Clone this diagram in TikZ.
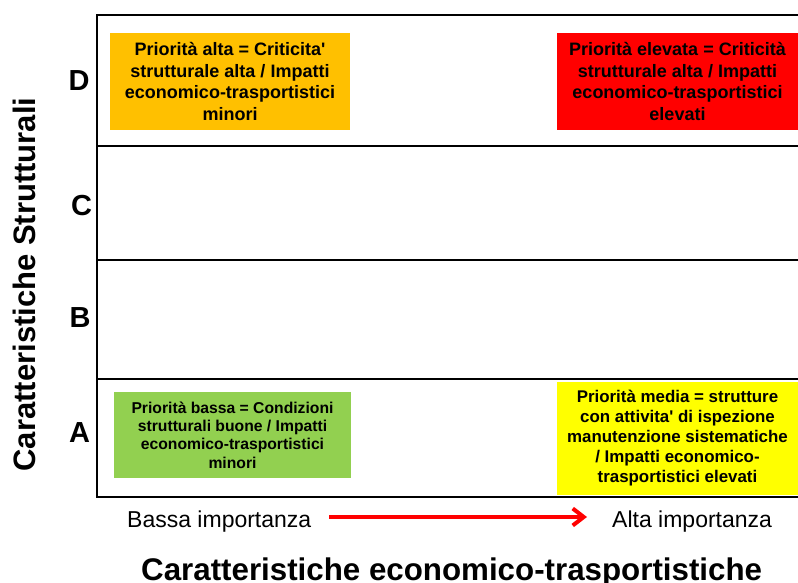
\documentclass[tikz,border=0pt]{standalone}
\usepackage{fontspec}
\setmainfont{Liberation Sans}
\usetikzlibrary{arrows.meta}
\definecolor{cOrange}{HTML}{FFC000}
\definecolor{cRed}{HTML}{FF0000}
\definecolor{cGreen}{HTML}{92D050}
\definecolor{cYellow}{HTML}{FFFF00}
\tikzset{
  frameline/.style={line width=2.8pt, black},
  prbox/.style={rectangle, inner sep=0pt, align=center, font=\bfseries},
  rowlabel/.style={inner sep=0pt, font=\fontsize{29}{33}\selectfont\bfseries},
  axislabel/.style={inner sep=0pt, font=\fontsize{31.3}{36}\selectfont\bfseries},
  implabel/.style={inner sep=0pt, anchor=base west, font=\fontsize{23}{27}\selectfont},
  imparrow/.style={red, line width=4pt, -{Straight Barb[length=11pt,width=17pt]}}
}
\begin{document}
\begin{tikzpicture}[x=1pt,y=-1pt]
\useasboundingbox (0,0) rectangle (798,583);
\clip (0,0) rectangle (798,583);
% frame and rows
\coordinate (ftl) at (97,15);
\coordinate (fbr) at (830,497);
\draw[frameline] (ftl) rectangle (fbr);
\coordinate (l1a) at (97,146); \coordinate (l1b) at (830,146);
\coordinate (l2a) at (97,260); \coordinate (l2b) at (830,260);
\coordinate (l3a) at (97,379); \coordinate (l3b) at (830,379);
\draw[frameline] (l1a) -- (l1b);
\draw[frameline] (l2a) -- (l2b);
\draw[frameline] (l3a) -- (l3b);
% priority boxes
\node[prbox, fill=cOrange, minimum width=240pt, minimum height=97pt,
      font=\fontsize{18}{21.5}\selectfont\bfseries] (alta) at (230,81.5)
  {Priorità alta = Criticita\textquotesingle\\strutturale alta / Impatti\\economico-trasportistici\\minori};
\node[prbox, fill=cRed, minimum width=241pt, minimum height=97pt,
      font=\fontsize{18}{21.5}\selectfont\bfseries] (elevata) at (677.5,81.5)
  {Priorità elevata = Criticità\\strutturale alta / Impatti\\economico-trasportistici\\elevati};
\node[prbox, fill=cGreen, minimum width=237pt, minimum height=86pt,
      font=\fontsize{15.7}{18.3}\selectfont\bfseries] (bassa) at (232.5,435)
  {Priorità bassa = Condizioni\\strutturali buone / Impatti\\economico-trasportistici\\minori};
\node[prbox, fill=cYellow, minimum width=241pt, minimum height=113pt,
      font=\fontsize{16.9}{20}\selectfont\bfseries] (media) at (677.5,438.5)
  {Priorità media = strutture\\con attivita\textquotesingle{} di ispezione\\manutenzione sistematiche\\/ Impatti economico-\\trasportistici elevati};
% row labels
\node[rowlabel] (rD) at (79,81) {D};
\node[rowlabel] (rC) at (81.5,206) {C};
\node[rowlabel] (rB) at (80,318) {B};
\node[rowlabel] (rA) at (79.5,433) {A};
% axis labels
\node[axislabel, rotate=90, font=\fontsize{31}{35}\selectfont\bfseries] (ylab) at (24.5,284.5) {Caratteristiche Strutturali};
\node[axislabel, anchor=base west] (xlab) at (141,580) {Caratteristiche economico-trasportistiche};
% importance
\node[implabel] (lo) at (127,527) {Bassa importanza};
\node[implabel] (hi) at (612,527) {Alta importanza};
\coordinate (arrS) at (329,517);
\coordinate (arrE) at (587,517);
\draw[imparrow] (arrS) -- (arrE);
\end{tikzpicture}
\end{document}
